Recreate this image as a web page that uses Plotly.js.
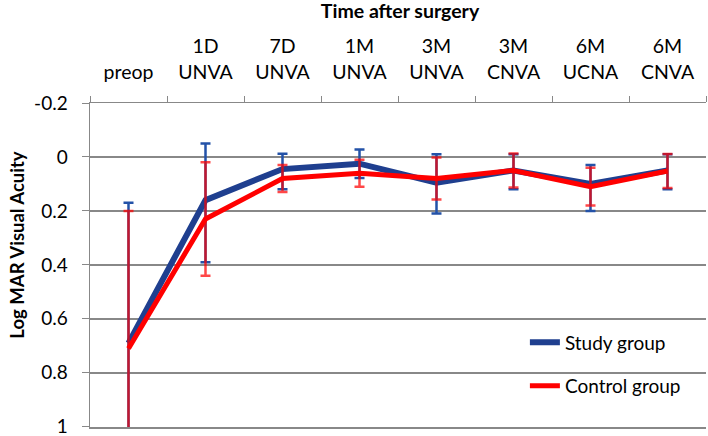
<!DOCTYPE html>
<html>
<head>
<meta charset="utf-8">
<script src="https://cdn.plot.ly/plotly-3.0.1.min.js"></script>
<style>
  html, body { margin: 0; padding: 0; background: #fff; }
  #chart { width: 708px; height: 436px; }
</style>
</head>
<body>
<div id="chart"></div>
<script>
// time points after surgery
var timePoints = ['preop', '1D<br>UNVA', '7D<br>UNVA', '1M<br>UNVA', '3M<br>UNVA',
                  '3M<br>CNVA', '6M<br>UCNA', '6M<br>CNVA'];

// mean logMAR values
var studyMean   = [0.69, 0.16, 0.045, 0.025, 0.095, 0.05, 0.10, 0.05];
var controlMean = [0.71, 0.23, 0.08, 0.06, 0.08, 0.05, 0.11, 0.052];

// error bars (plus = down on the reversed axis, minus = up)
var studyErrPlus    = [0.52, 0.23, 0.075, 0.053, 0.115, 0.07, 0.10, 0.07];
var studyErrMinus   = [0.52, 0.21, 0.057, 0.053, 0.105, 0.06, 0.07, 0.06];
var controlErrPlus  = [0.51, 0.21, 0.05, 0.05, 0.078, 0.063, 0.07, 0.063];
var controlErrMinus = [0.51, 0.21, 0.05, 0.05, 0.078, 0.063, 0.07, 0.063];

var yTicks = [-0.2, 0, 0.2, 0.4, 0.6, 0.8, 1];
var yTickText = ['-0.2', '0', '0.2', '0.4', '0.6', '0.8', '1'];

var study = {
  x: timePoints,
  y: studyMean,
  name: 'Study group',
  legendgroup: 'a',
  type: 'scatter',
  mode: 'lines',
  line: { color: '#1f3f8f', width: 6 },
  error_y: {
    type: 'data', symmetric: false,
    array: studyErrPlus, arrayminus: studyErrMinus,
    color: '#2352a8', thickness: 2.5, width: 5
  }
};

var control = {
  x: timePoints,
  y: controlMean,
  name: 'Control group',
  legendgroup: 'b',
  type: 'scatter',
  mode: 'lines',
  line: { color: '#ff0000', width: 5 },
  error_y: {
    type: 'data', symmetric: false,
    array: controlErrPlus, arrayminus: controlErrMinus,
    color: 'rgba(255,0,0,0.72)', thickness: 2.5, width: 5
  }
};

var data = [study, control];

var layout = {
  width: 708,
  height: 436,
  margin: { l: 90, r: 2, t: 103, b: 9 },
  paper_bgcolor: '#fff',
  plot_bgcolor: '#fff',
  font: { family: 'Lato, "Open Sans", sans-serif', size: 19, color: '#000' },
  title: {
    text: '<b>Time after surgery</b>',
    font: { size: 19.5 },
    x: 0.565, xanchor: 'center',
    y: 0.975, yanchor: 'middle'
  },
  showlegend: true,
  legend: {
    x: 0.706, xanchor: 'left',
    y: 0.32, yanchor: 'top',
    traceorder: 'grouped',
    tracegroupgap: 16,
    bgcolor: 'rgba(0,0,0,0)',
    font: { size: 19 }
  },
  annotations: [{
    text: '<b>Log MAR Visual Acuity</b>',
    textangle: -90,
    xref: 'paper', yref: 'paper',
    x: -0.12, y: 0.56,
    xanchor: 'center', yanchor: 'middle',
    showarrow: false,
    font: { size: 18.5 }
  }],
  xaxis: {
    side: 'top',
    type: 'category',
    showgrid: false,
    showline: true,
    mirror: true,
    linecolor: '#888',
    linewidth: 1.5,
    ticks: 'outside',
    tickson: 'boundaries',
    ticklen: 6,
    tickcolor: '#888',
    ticklabelstandoff: 15,
    tickfont: { size: 19.5 },
    range: [-0.5, 7.5]
  },
  yaxis: {
    range: [1.001, -0.2],
    tickvals: yTicks,
    ticktext: yTickText,
    showgrid: true,
    gridcolor: '#888',
    gridwidth: 1.5,
    zeroline: false,
    showline: true,
    linecolor: '#888',
    linewidth: 1.5,
    ticks: 'outside',
    ticklen: 7,
    tickcolor: '#888',
    ticklabelstandoff: 10,
    ticklabeloverflow: 'allow',
    tickfont: { size: 19 }
  }
};

Plotly.newPlot('chart', data, layout, { displayModeBar: false, staticPlot: true });
</script>
</body>
</html>
